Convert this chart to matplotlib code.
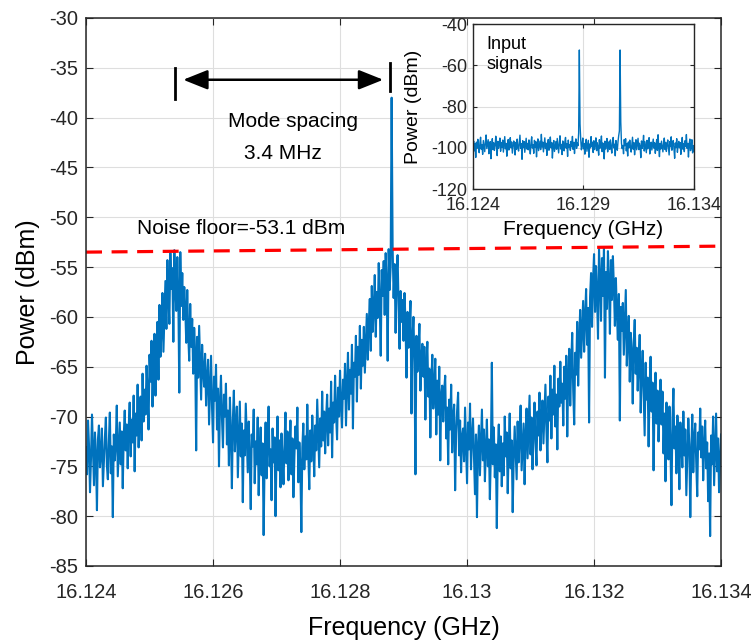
import numpy as np
import matplotlib
matplotlib.use("Agg")
import matplotlib.pyplot as plt

plt.rcParams['font.family'] = ['Liberation Sans', 'DejaVu Sans']
plt.rcParams['axes.unicode_minus'] = False

# output spectrum, 16.124 - 16.134 GHz, 641 samples
f_start, f_stop = 16.124, 16.134
power_out = [
    -73.1, -75.8, -70.4, -72.9, -77.6, -74.2, -69.8, -73.5, -76.9, -71.6,
    -74.0, -79.4, -72.3, -70.9, -75.1, -73.8, -71.2, -77.0, -74.5, -72.1,
    -70.1, -74.9, -76.3, -72.5, -69.6, -75.7, -73.0, -80.1, -71.8, -74.4,
    -72.7, -68.9, -76.0, -73.3, -70.6, -74.8, -71.5, -77.2, -72.0, -69.4,
    -73.4, -70.8, -75.2, -71.1, -68.6, -74.0, -70.3, -72.6, -67.9, -75.5,
    -69.7, -71.9, -66.8, -73.1, -69.2, -68.0, -72.4, -65.7, -70.5, -67.3,
    -69.8, -64.9, -67.6, -71.3, -63.8, -66.5, -62.4, -69.0, -65.1, -61.7,
    -67.9, -63.2, -60.5, -66.3, -58.8, -64.0, -61.3, -57.6, -63.5, -59.9,
    -56.4, -61.2, -54.3, -58.0, -60.7, -53.6, -57.2, -55.1, -62.5, -53.3,
    -56.8, -59.4, -54.0, -57.7, -67.6, -53.5, -58.9, -55.6, -60.3, -57.0,
    -59.1, -62.6, -57.3, -61.8, -64.4, -58.7, -63.0, -60.2, -65.7, -61.1,
    -63.6, -73.4, -62.0, -66.1, -60.9, -64.7, -68.3, -62.8, -65.4, -67.0,
    -63.7, -68.9, -66.2, -64.3, -70.8, -67.5, -63.9, -69.1, -72.6, -66.0,
    -68.4, -64.8, -71.3, -67.2, -75.0, -68.6, -65.9, -70.2, -73.1, -67.8,
    -70.0, -66.7, -72.8, -69.4, -74.9, -68.1, -71.6, -77.2, -70.3, -67.4,
    -73.5, -71.0, -69.0, -76.1, -72.2, -68.5, -74.0, -70.7, -78.6, -71.4,
    -73.9, -68.7, -72.3, -75.6, -70.5, -74.2, -79.3, -71.8, -73.0, -69.3,
    -76.7, -72.5, -74.8, -70.1, -77.9, -73.4, -71.1, -75.9, -72.7, -81.9,
    -74.3, -70.6, -76.2, -72.8, -69.0, -75.0, -73.3, -78.4, -71.2, -74.6,
    -72.1, -80.0, -73.7, -70.0, -75.4, -72.4, -77.1, -71.7, -74.1, -76.8,
    -72.9, -69.6, -74.7, -71.5, -76.4, -73.6, -70.4, -75.8, -72.2, -78.1,
    -74.0, -71.0, -73.2, -69.1, -76.6, -72.6, -74.9, -81.6, -73.1, -70.7,
    -75.3, -72.0, -74.3, -68.8, -73.8, -77.3, -71.4, -74.5, -69.9, -72.7,
    -76.0, -70.9, -73.4, -68.3, -71.9, -75.1, -70.2, -73.0, -67.5, -72.4,
    -69.5, -73.7, -70.1, -67.8, -72.9, -69.2, -71.6, -66.5, -74.1, -68.6,
    -70.6, -65.9, -69.8, -72.3, -67.1, -70.0, -65.4, -68.9, -71.1, -66.3,
    -68.2, -64.7, -70.9, -66.9, -63.6, -69.3, -65.3, -67.7, -62.8, -71.2,
    -64.6, -66.0, -61.9, -68.5, -63.0, -65.8, -60.9, -67.2, -62.3, -64.9,
    -61.0, -65.6, -62.6, -59.7, -64.3, -60.6, -58.2, -63.4, -56.9, -61.5,
    -59.2, -55.8, -62.0, -57.5, -60.1, -54.6, -58.6, -63.9, -55.3, -57.9,
    -54.4, -59.8, -53.6, -56.7, -64.4, -53.2, -57.3, -55.0, -38.0, -53.0,
    -58.1, -54.7, -61.6, -55.9, -53.8, -59.0, -63.2, -57.4, -60.5, -58.3,
    -62.4, -57.6, -60.8, -66.1, -59.5, -63.1, -61.0, -58.4, -69.7, -62.2,
    -60.0, -64.6, -75.8, -61.9, -65.5, -63.3, -60.7, -67.4, -64.1, -62.7,
    -66.0, -63.0, -70.3, -64.8, -62.5, -68.0, -65.2, -72.1, -66.6, -63.8,
    -69.2, -67.1, -64.2, -71.8, -66.4, -69.8, -65.0, -74.4, -67.9, -66.9,
    -70.5, -67.3, -65.9, -72.2, -69.1, -74.8, -68.3, -71.3, -66.8, -73.6,
    -70.0, -68.8, -77.4, -71.7, -69.4, -67.6, -73.9, -70.4, -75.6, -72.0,
    -71.2, -74.5, -69.1, -72.9, -76.7, -70.6, -73.3, -68.7, -75.3, -72.1,
    -70.2, -74.1, -77.8, -71.8, -80.1, -73.0, -70.9, -75.9, -72.6, -69.3,
    -74.4, -71.3, -76.5, -73.2, -70.3, -75.0, -72.3, -78.3, -73.7, -64.6,
    -74.8, -71.1, -76.1, -72.8, -81.2, -73.5, -70.8, -75.5, -72.0, -77.0,
    -72.7, -75.9, -70.0, -74.0, -71.6, -77.7, -73.0, -69.7, -75.2, -72.4,
    -79.6, -74.3, -71.0, -73.6, -76.3, -70.5, -74.6, -72.1, -68.9, -75.4,
    -73.1, -70.7, -76.8, -72.0, -69.2, -74.2, -71.2, -67.9, -73.8, -70.1,
    -75.3, -71.5, -68.6, -72.6, -74.9, -69.5, -71.9, -67.6, -73.4, -70.3,
    -68.4, -72.7, -69.6, -66.8, -71.3, -74.6, -68.0, -70.4, -65.9, -72.2,
    -67.3, -69.8, -64.9, -71.0, -67.8, -73.3, -66.2, -69.0, -64.5, -68.6,
    -66.7, -70.9, -65.0, -68.2, -63.9, -72.0, -66.0, -63.2, -68.9, -64.7,
    -61.6, -67.4, -70.8, -63.6, -65.8, -60.5, -66.9, -62.4, -59.3, -64.1,
    -61.3, -58.4, -63.5, -60.0, -57.2, -62.8, -59.1, -70.6, -58.0, -55.6,
    -61.0, -56.3, -53.7, -59.5, -54.9, -57.8, -62.2, -53.2, -56.0, -60.4,
    -54.1, -57.9, -53.0, -66.1, -55.5, -59.2, -53.4, -56.6, -61.7, -54.3,
    -58.3, -53.9, -57.0, -60.9, -56.1, -59.6, -62.3, -57.7, -70.4, -59.0,
    -61.4, -58.6, -63.8, -60.6, -57.3, -64.9, -62.0, -59.9, -66.5, -61.6,
    -63.5, -68.7, -62.6, -60.3, -65.7, -63.1, -67.4, -64.4, -61.8, -69.6,
    -65.9, -63.4, -67.7, -71.9, -64.6, -68.3, -66.1, -73.0, -67.0, -64.0,
    -69.5, -66.6, -75.4, -68.0, -65.6, -70.7, -67.4, -72.5, -69.2, -66.3,
    -70.8, -67.5, -73.7, -69.7, -76.5, -68.6, -71.7, -74.3, -69.0, -72.9,
    -78.9, -70.4, -67.2, -73.2, -71.0, -75.7, -69.9, -72.3, -77.3, -70.6,
    -72.5, -75.1, -69.5, -73.9, -71.3, -77.9, -74.0, -70.2, -72.8, -80.1,
    -73.6, -69.8, -75.6, -72.2, -70.7, -74.7, -78.0, -71.6, -73.3, -69.2,
    -74.1, -71.0, -76.4, -73.0, -70.4, -75.2, -72.6, -78.5, -73.7, -82.0,
    -71.9, -74.8, -70.0, -76.9, -73.1, -69.7, -75.5, -72.2, -77.6, -74.4,
    -71.8,
]

# input signals (inset), 321 samples over the same span
power_in = [
    -99.2, -96.8, -101.5, -98.0, -104.7, -97.3, -100.1, -95.9, -99.6, -102.4,
    -97.8, -94.9, -100.7, -98.5, -103.2, -96.5, -99.0, -101.9, -97.1, -93.8,
    -100.4, -98.2, -96.1, -102.9, -99.4, -97.0, -105.3, -98.8, -95.6, -100.9,
    -97.6, -101.3, -99.1, -94.4, -98.6, -103.8, -96.9, -100.2, -98.1, -95.3,
    -101.7, -97.5, -99.8, -96.3, -102.1, -98.4, -94.6, -100.5, -97.9, -104.1,
    -99.3, -96.0, -101.1, -98.9, -95.1, -100.0, -97.2, -102.6, -99.7, -96.7,
    -98.3, -103.5, -97.4, -100.8, -95.8, -99.5, -101.6, -97.7, -93.9, -100.3,
    -98.0, -105.6, -96.6, -99.9, -97.0, -102.2, -98.7, -95.4, -100.6, -97.9,
    -101.0, -96.2, -99.3, -103.0, -97.6, -94.7, -100.1, -98.5, -102.7, -96.4,
    -99.8, -97.1, -104.4, -98.2, -95.7, -101.4, -99.0, -96.8, -100.9, -93.5,
    -99.6, -97.3, -102.0, -98.6, -95.2, -100.4, -97.8, -103.7, -99.1, -96.0,
    -101.2, -98.3, -94.8, -100.0, -97.5, -105.0, -98.9, -96.5, -101.8, -99.4,
    -97.0, -100.7, -95.5, -99.2, -102.5, -97.7, -94.2, -100.6, -98.4, -103.3,
    -96.7, -99.7, -101.5, -97.2, -95.0, -100.2, -98.1, -104.2, -96.3, -99.8,
    -98.6, -101.3, -96.9, -99.5, -94.5, -100.8, -97.4, -102.8, -98.0, -95.7,
    -100.3, -97.6, -99.0, -92.8, -52.6, -88.5, -96.0, -101.0, -98.7, -95.3,
    -100.5, -97.9, -103.1, -98.8, -95.9, -101.7, -99.2, -96.4, -104.6, -98.2,
    -100.0, -94.6, -99.5, -97.3, -102.3, -96.6, -100.9, -98.4, -95.2, -101.4,
    -97.6, -99.9, -103.6, -96.1, -100.2, -98.0, -94.3, -101.9, -97.7, -99.4,
    -105.4, -96.8, -100.6, -98.5, -95.5, -102.0, -99.1, -97.1, -100.8, -96.2,
    -99.7, -102.6, -97.4, -95.0, -100.1, -98.3, -103.9, -96.5, -99.3, -101.2,
    -97.0, -94.1, -91.9, -52.6, -87.6, -97.8, -100.4, -98.9, -102.9, -96.0,
    -99.0, -95.6, -101.5, -98.1, -104.0, -97.2, -100.0, -96.3, -99.6, -102.1,
    -98.6, -94.9, -100.7, -97.5, -103.4, -99.2, -96.1, -101.0, -98.0, -95.4,
    -100.9, -97.8, -99.4, -104.8, -96.7, -100.3, -98.4, -94.0, -101.6, -97.1,
    -99.8, -102.4, -96.4, -100.5, -98.2, -95.1, -103.0, -99.1, -97.3, -101.1,
    -98.5, -95.8, -100.2, -97.6, -102.7, -99.0, -96.0, -101.3, -93.7, -99.7,
    -104.3, -97.9, -100.6, -96.8, -99.3, -102.0, -98.1, -95.3, -100.8, -97.4,
    -101.8, -98.7, -96.2, -100.1, -103.5, -97.0, -99.5, -94.7, -101.2, -98.3,
    -96.5, -100.4, -105.1, -97.7, -99.9, -95.6, -102.2, -98.8, -96.9, -100.0,
    -97.5, -103.2, -99.6, -95.0, -100.7, -98.1, -101.9, -96.6, -99.2, -93.6,
    -100.3, -97.9, -104.5, -98.4, -95.8, -101.4, -99.0, -96.1, -102.5, -98.9,
    -101.6,
]

noise_floor_x = [16.124, 16.134]
noise_floor_y = [-53.5, -52.9]

main_xticks = [16.124, 16.126, 16.128, 16.13, 16.132, 16.134]
main_xticklabels = ['16.124', '16.126', '16.128', '16.13', '16.132', '16.134']
main_yticks = list(range(-85, -29, 5))
inset_xticks = [16.124, 16.129, 16.134]
inset_xticklabels = ['16.124', '16.129', '16.134']
inset_yticks = [-120, -100, -80, -60, -40]

blue = '#0072BD'
spine_c = '#262626'

f_out = np.linspace(f_start, f_stop, len(power_out))
f_in = np.linspace(f_start, f_stop, len(power_in))

fig = plt.figure(figsize=(7.54, 6.42), dpi=100)
ax = fig.add_axes([0.1141, 0.1184, 0.8422, 0.8536])

ax.plot(f_out, power_out, color=blue, lw=1.5)
ax.plot(noise_floor_x, noise_floor_y, color='#FF0000', lw=2.3, dashes=(5, 3))

ax.set_xlim(f_start, f_stop)
ax.set_ylim(-85, -30)
ax.set_xticks(main_xticks)
ax.set_xticklabels(main_xticklabels)
ax.set_yticks(main_yticks)
ax.grid(True, color='#dedede', lw=0.8)
ax.set_axisbelow(True)
ax.tick_params(direction='in', top=True, right=True, labelsize=14.5,
               length=5, width=0.8, colors=spine_c)
ax.tick_params(axis='x', pad=12)
ax.tick_params(axis='y', pad=6)
for s in ax.spines.values():
    s.set_color(spine_c)
    s.set_linewidth(1.1)
ax.set_xlabel('Frequency (GHz)', fontsize=18, labelpad=10)
ax.set_ylabel('Power (dBm)', fontsize=18, labelpad=6)

# mode spacing marker
ax.annotate('', xy=(16.12553, -36.2), xytext=(16.12868, -36.2),
            arrowprops=dict(arrowstyle='<|-|>,head_length=1.0,head_width=0.4',
                            mutation_scale=15, color='black', lw=1.8,
                            shrinkA=0, shrinkB=0))
ax.plot([16.12540, 16.12540], [-35.0, -38.1], color='black', lw=2)
ax.plot([16.12879, 16.12879], [-34.5, -37.3], color='black', lw=2)
ax.text(16.12726, -40.4, 'Mode spacing', fontsize=15, ha='center', va='center')
ax.text(16.12710, -43.6, '3.4 MHz', fontsize=15, ha='center', va='center')
ax.text(16.12644, -51.1, 'Noise floor=-53.1 dBm', fontsize=15,
        ha='center', va='center')

# inset: input signals
ins = fig.add_axes([0.6273, 0.7056, 0.2931, 0.257])
ins.plot(f_in, power_in, color=blue, lw=1.0)
ins.set_xlim(f_start, f_stop)
ins.set_ylim(-120, -40)
ins.set_xticks(inset_xticks)
ins.set_xticklabels(inset_xticklabels)
ins.set_yticks(inset_yticks)
ins.grid(True, color='#dedede', lw=0.8)
ins.set_axisbelow(True)
ins.tick_params(direction='in', top=True, right=True, labelsize=13,
                length=3, width=0.8, colors=spine_c, pad=4)
ins.tick_params(axis='x', pad=6)
for s in ins.spines.values():
    s.set_color(spine_c)
    s.set_linewidth(1.0)
ins.set_xlabel('Frequency (GHz)', fontsize=15, labelpad=4)
ins.set_ylabel('Power (dBm)', fontsize=14, labelpad=7)
ins.text(0.06, 0.93, 'Input\nsignals', transform=ins.transAxes,
         fontsize=13, ha='left', va='top', linespacing=1.3)

fig.savefig('out.png', dpi=100)
